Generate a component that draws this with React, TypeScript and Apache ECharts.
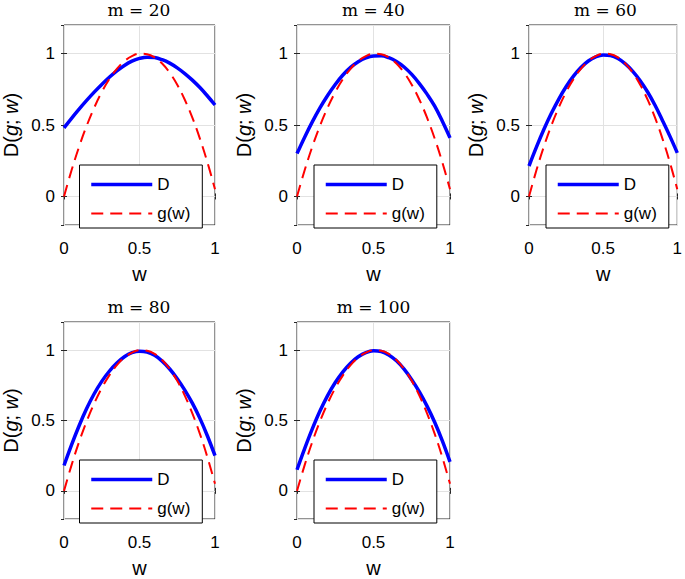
import React, { useEffect, useRef } from "react";
import * as echarts from "echarts";

// ---- data ----
const W = [0, 0.05, 0.1, 0.15, 0.2, 0.25, 0.3, 0.35, 0.4, 0.45, 0.5, 0.55, 0.6, 0.65, 0.7, 0.75, 0.8, 0.85, 0.9, 0.95, 1];
const G = [0, 0.183, 0.348, 0.494, 0.621, 0.73, 0.821, 0.893, 0.947, 0.982, 0.999, 0.996, 0.974, 0.93, 0.866, 0.782, 0.677, 0.551, 0.405, 0.238, 0.05];
const D20 = [0.48, 0.547, 0.611, 0.672, 0.73, 0.784, 0.834, 0.879, 0.917, 0.947, 0.966, 0.975, 0.972, 0.957, 0.933, 0.9, 0.86, 0.814, 0.762, 0.703, 0.64];
const D40 = [0.3, 0.415, 0.522, 0.62, 0.707, 0.784, 0.85, 0.903, 0.943, 0.97, 0.983, 0.984, 0.971, 0.945, 0.906, 0.854, 0.79, 0.716, 0.632, 0.526, 0.41];
const D60 = [0.213, 0.345, 0.468, 0.58, 0.68, 0.768, 0.842, 0.902, 0.948, 0.977, 0.99, 0.986, 0.965, 0.928, 0.876, 0.81, 0.731, 0.638, 0.532, 0.422, 0.305];
const D80 = [0.18, 0.327, 0.463, 0.585, 0.69, 0.778, 0.85, 0.908, 0.953, 0.982, 0.993, 0.987, 0.963, 0.922, 0.866, 0.797, 0.716, 0.623, 0.515, 0.39, 0.25];
const D100 = [0.15, 0.3, 0.44, 0.567, 0.677, 0.77, 0.846, 0.907, 0.953, 0.983, 0.995, 0.99, 0.966, 0.924, 0.865, 0.79, 0.703, 0.602, 0.487, 0.355, 0.206];
const M_VALUES = [20, 40, 60, 80, 100];
const D_SERIES = [D20, D40, D60, D80, D100];
const LEGEND_NAMES = ["D", "g(w)"];

// ---- layout ----
const PANELS = [
  { l: 63, t: 25, w: 152, h: 200 },
  { l: 297, t: 25, w: 153, h: 200 },
  { l: 529, t: 25, w: 153, h: 200 },
  { l: 63, t: 322, w: 152, h: 198 },
  { l: 297, t: 322, w: 153, h: 198 },
];

const SANS = '"Liberation Sans", Arial, Helvetica, sans-serif';
const SERIF = '"DejaVu Serif", "Liberation Serif", serif';
const AXIS_COLOR = "#262626";
const GRID_COLOR = "#e2e2e2";

function buildOption() {
  const grid: any[] = [];
  const xAxis: any[] = [];
  const yAxis: any[] = [];
  const series: any[] = [];
  const title: any[] = [];
  const legend: any[] = [];

  PANELS.forEach((p, i) => {
    grid.push({
      left: p.l,
      top: p.t,
      width: p.w,
      height: p.h,
      show: true,
      borderColor: AXIS_COLOR,
      borderWidth: 1,
      backgroundColor: "transparent",
    });
    const tick = { show: true, inside: true, length: 3, lineStyle: { color: AXIS_COLOR } };
    xAxis.push({
      gridIndex: i,
      type: "value",
      position: "bottom",
      min: 0,
      max: 1,
      interval: 0.5,
      axisLine: { show: false },
      axisTick: tick,
      axisLabel: { fontSize: 17, fontFamily: SANS, color: "#000", margin: 15 },
      splitLine: { show: true, lineStyle: { color: GRID_COLOR, width: 1 } },
      name: "w",
      nameLocation: "middle",
      nameGap: 39,
      nameTextStyle: { fontSize: 20, fontFamily: SANS, color: "#000" },
    });
    xAxis.push({
      gridIndex: i,
      type: "value",
      position: "top",
      min: 0,
      max: 1,
      interval: 0.5,
      axisLine: { show: false },
      axisTick: tick,
      axisLabel: { show: false },
      splitLine: { show: false },
    });
    const yCommon = {
      gridIndex: i,
      type: "value",
      min: -0.2,
      max: 1.2,
      splitNumber: 3,
      minInterval: 0.5,
      maxInterval: 0.5,
    };
    yAxis.push({
      ...yCommon,
      position: "left",
      axisLine: { show: false },
      axisTick: tick,
      axisLabel: {
        fontSize: 17,
        fontFamily: SANS,
        color: "#000",
        margin: 9,
        showMinLabel: false,
        showMaxLabel: false,
      },
      splitLine: { show: true, lineStyle: { color: GRID_COLOR, width: 1 } },
      name: "{n|D(}{i|g}{n|; }{i|w}{n|)}",
      nameLocation: "middle",
      nameGap: 43,
      nameTextStyle: {
        rich: {
          n: { fontSize: 20, fontFamily: SANS, color: "#000" },
          i: { fontSize: 20, fontFamily: SANS, color: "#000", fontStyle: "italic" },
        },
      },
    });
    yAxis.push({
      ...yCommon,
      position: "right",
      axisLine: { show: false },
      axisTick: tick,
      axisLabel: { show: false },
      splitLine: { show: false },
    });

    series.push({
      name: "D",
      type: "line",
      xAxisIndex: 2 * i,
      yAxisIndex: 2 * i,
      data: W.map((w, k) => [w, D_SERIES[i][k]]),
      smooth: 0.4,
      symbol: "circle",
      showSymbol: false,
      lineStyle: { color: "#0000ff", width: 3.5 },
      itemStyle: { color: "#0000ff" },
      z: 3,
    });
    series.push({
      name: "g(w)",
      type: "line",
      xAxisIndex: 2 * i,
      yAxisIndex: 2 * i,
      data: W.map((w, k) => [w, G[k]]),
      smooth: 0.4,
      symbol: "circle",
      showSymbol: false,
      lineStyle: { color: "#ff0000", width: 2, type: [12, 7] },
      itemStyle: { color: "#ff0000" },
      z: 4,
    });

    title.push({
      text: `m = ${M_VALUES[i]}`,
      left: p.l + p.w / 2,
      top: p.t - 24,
      textAlign: "center",
      padding: 0,
      textStyle: { fontFamily: SERIF, fontSize: 17, fontWeight: "normal", color: "#000" },
    });

    const hiddenSymbol = { color: "transparent", borderColor: "transparent", borderWidth: 0, opacity: 0 };
    legend.push({
      orient: "vertical",
      left: p.l + (p.w - 119) / 2,
      top: p.t + p.h - 60,
      itemWidth: 61,
      itemHeight: 14,
      itemGap: 12,
      padding: [11, 12, 6, 10],
      borderColor: "#000",
      borderWidth: 1,
      borderRadius: 0,
      backgroundColor: "#fff",
      selectedMode: false,
      textStyle: { fontSize: 17, fontFamily: SANS, color: "#000" },
      itemStyle: hiddenSymbol,
      data: [
        { name: LEGEND_NAMES[0], lineStyle: { width: 3.5 }, itemStyle: hiddenSymbol },
        { name: LEGEND_NAMES[1], lineStyle: { width: 2 }, itemStyle: hiddenSymbol },
      ],
      z: 10,
    });
  });

  return { animation: false, backgroundColor: "#fff", grid, xAxis, yAxis, series, title, legend };
}

export default function App() {
  const ref = useRef<HTMLDivElement>(null);
  useEffect(() => {
    if (!ref.current) return;
    const chart = echarts.init(ref.current, null, { renderer: "svg" });
    chart.setOption(buildOption() as any);
    return () => chart.dispose();
  }, []);
  return (
    <div
      ref={ref}
      style={{ position: "absolute", left: 0, top: 0, width: 685, height: 579, background: "#fff" }}
    />
  );
}
